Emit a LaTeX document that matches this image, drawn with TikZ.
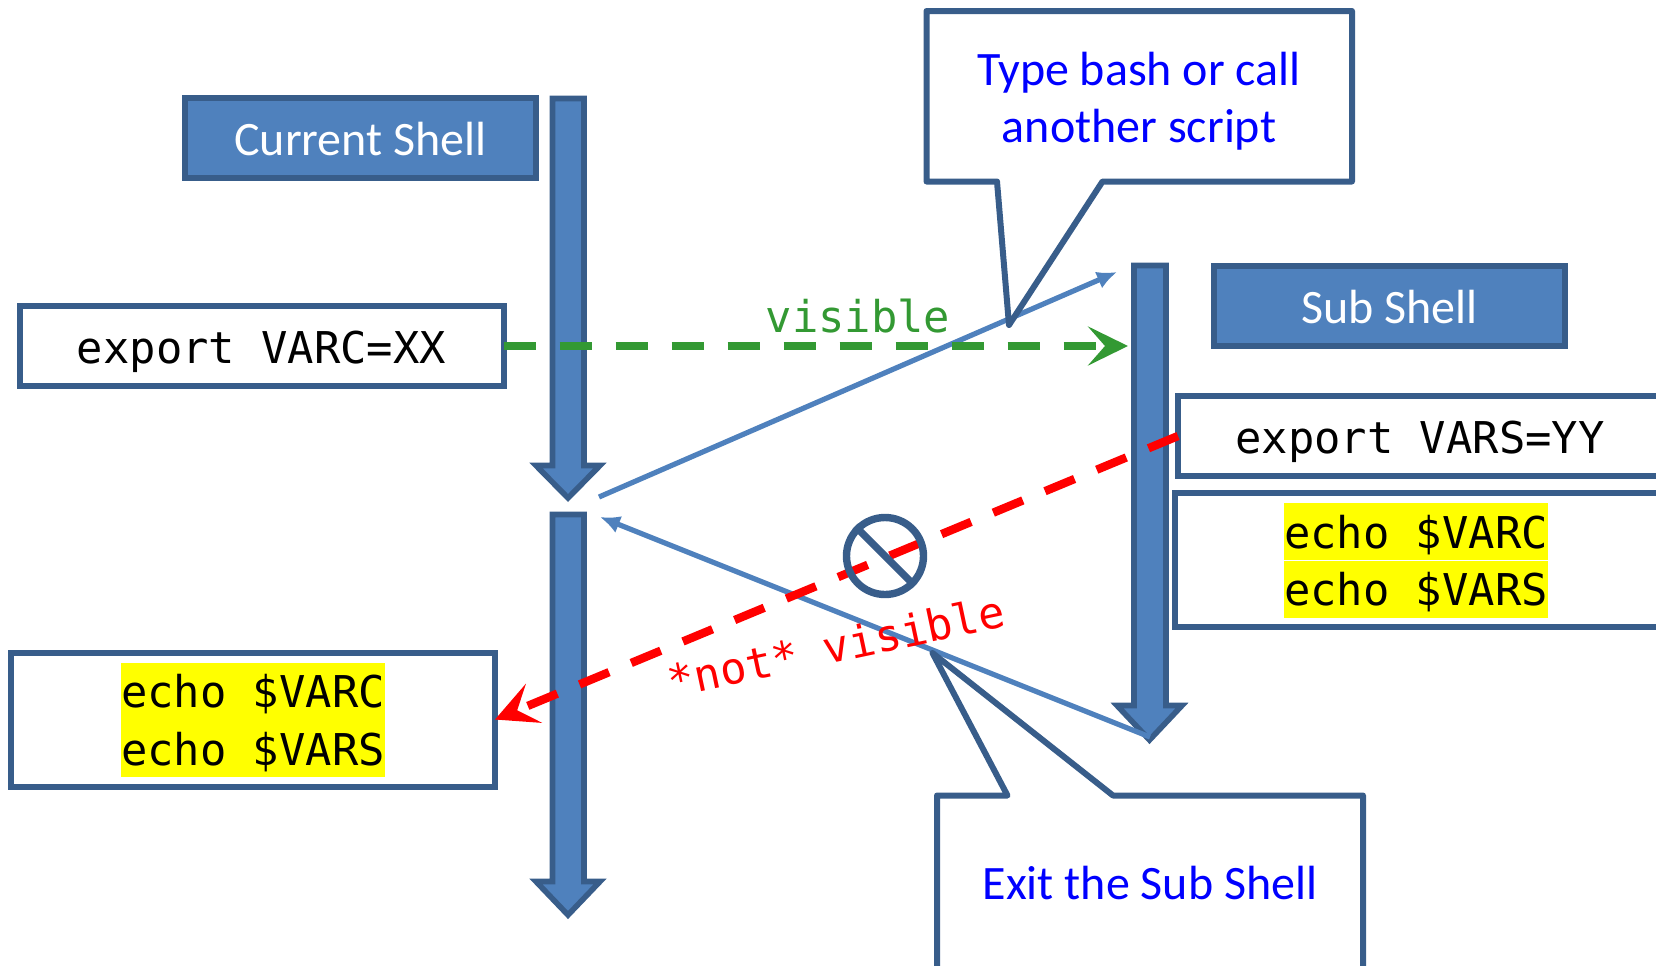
\documentclass[tikz,border=0pt]{standalone}
\usepackage{fontspec}
\usepackage{tikz}
\usetikzlibrary{arrows.meta}
\setmainfont{Carlito}
\setmonofont{DejaVu Sans Mono}
\definecolor{shellfill}{HTML}{4F81BD}
\definecolor{shellline}{HTML}{385D8A}
\definecolor{visgreen}{HTML}{339933}
\definecolor{codeyellow}{HTML}{FFFF00}
\tikzset{
  flowbar/.style={draw=shellline,fill=shellfill,line width=2.8pt,miter limit=10},
  flowlink/.style={draw=shellfill,line width=2.6pt,-{Latex[length=10pt,width=9pt]}},
  textline/.style={text height=22pt,text depth=4.5pt,inner sep=0pt},
  shellbox/.style={draw=shellline,fill=shellfill,line width=3pt,minimum width=175.5pt,minimum height=40.25pt,inner sep=0pt},
  codebox/.style={draw=shellline,fill=white,line width=3pt,minimum width=242pt,inner sep=0pt,outer sep=0pt},
  codeline/.style={fill=codeyellow,minimum width=132pt,minimum height=28.5pt,inner sep=0pt,text height=22.5pt,text depth=6pt,font=\ttfamily\fontsize{21.9}{26}\selectfont},
  calloutshape/.style={draw=shellline,fill=white,line width=3pt,line join=round},
  seenlink/.style={draw=visgreen,line width=4.2pt,dash pattern=on 16pt off 12pt,-{Stealth[length=20pt,width=19.5pt,inset=8.5pt]}},
  hiddenlink/.style={draw=red,line width=4.2pt,dash pattern=on 16pt off 12pt,-{Stealth[length=21pt,width=21pt,inset=9pt]}},
}
\newcommand{\sansbig}{\fontsize{24}{28.5}\selectfont}
\newcommand{\monobig}{\ttfamily\fontsize{21.9}{26}\selectfont}
\begin{document}
\begin{tikzpicture}[x=0.5pt,y=-0.5pt]
\useasboundingbox (0,0) rectangle (1656,965);

\draw[flowbar] (552.5,98.5) -- (584,98.5) -- (584,465.5) -- (600,465.5) -- (568,498) -- (536,465.5) -- (552.5,465.5) -- cycle;
\draw[flowbar] (552.5,514.5) -- (584,514.5) -- (584,881.5) -- (600,881.5) -- (568,915) -- (536,881.5) -- (552.5,881.5) -- cycle;
\draw[flowbar] (1134,265.5) -- (1166,265.5) -- (1166,705.5) -- (1182,705.5) -- (1149.5,740) -- (1117,705.5) -- (1134,705.5) -- cycle;

\node[shellbox,textline,text=white,font=\sansbig] (current) at (360.5,138) {Current Shell};
\node[shellbox,textline,text=white,font=\sansbig] (sub) at (1389.5,306) {Sub Shell};

\node[codebox,minimum height=40pt,textline,font=\monobig] (exportc) at (261.5,346) {export VARC=XX};
\node[codebox,minimum height=40pt,textline,font=\monobig] (exports) at (1420,436) {export VARS=YY};

\node[codebox,minimum height=67pt] (echol) at (253,719.5) {};
\node[codeline] (varcl) at (253,691) {echo \$VARC};
\node[codeline] (varsl) at (253,748.5) {echo \$VARS};

\node[codebox,minimum height=67pt] (echor) at (1417,560) {};
\node[codeline] (varcr) at (1416,531.5) {echo \$VARC};
\node[codeline] (varsr) at (1416,589) {echo \$VARS};

\coordinate (leave) at (599,497);
\coordinate (enter) at (1117,272);
\coordinate (bottom) at (1150,737);
\coordinate (back) at (600,517);
\coordinate (subside) at (1128,346);

\draw[flowlink] (leave) -- (enter);
\draw[flowlink] (bottom) -- (back);
\draw[seenlink] (exportc.east) -- (subside);
\draw[hiddenlink] (exports.west) -- (echol.east);

\node[textline,text=visgreen,font=\monobig] (seen) at (858,315) {visible};
\node[textline,text=red,font=\monobig,rotate=12] (hidden) at (836,645) {*not* visible};

\node[draw=shellline,line width=3.7pt,circle,minimum size=38.5pt,inner sep=0pt] (nosign) at (885,556) {};
\draw[shellline,line width=3.7pt] (nosign.135) -- (nosign.-45);

\draw[calloutshape] (926.5,11) -- (1352,11) -- (1352,181.5) -- (1102.5,181.5) -- (1009,325) -- (997,181.5) -- (926.5,181.5) -- cycle;
\node[text=blue,font=\sansbig,align=center,inner sep=0pt] (typebash) at (1139,101) {Type bash or call\\another script};

\draw[calloutshape] (937,795.5) -- (1007.5,795.5) -- (932.5,653) -- (1113,795.5) -- (1363,795.5) -- (1363,975) -- (937,975) -- cycle;
\node[textline,text=blue,font=\sansbig] (exitsub) at (1150,882) {Exit the Sub Shell};
\end{tikzpicture}
\end{document}
